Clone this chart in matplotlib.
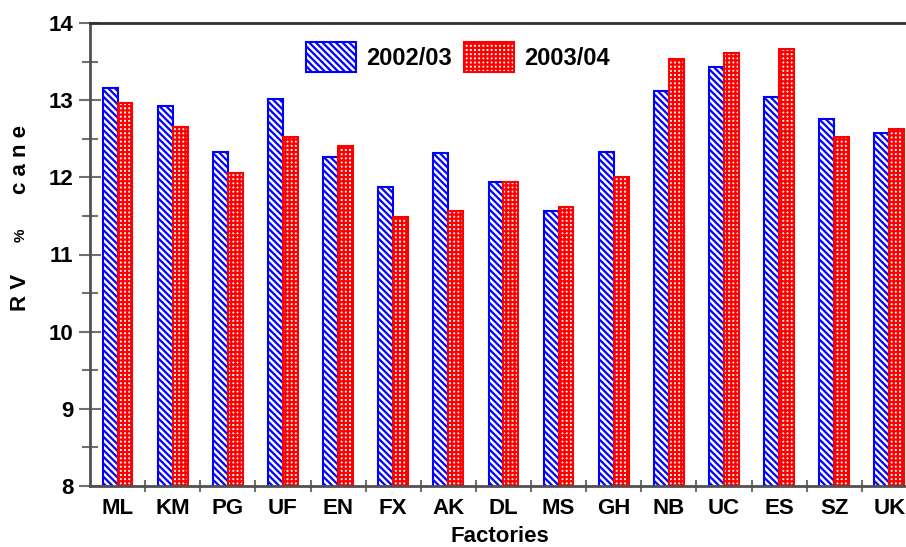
import numpy as np
import matplotlib
matplotlib.use("Agg")
import matplotlib.pyplot as plt
from matplotlib.ticker import MultipleLocator, FixedLocator

# data
factories = ["ML", "KM", "PG", "UF", "EN", "FX", "AK", "DL", "MS", "GH",
             "NB", "UC", "ES", "SZ", "UK"]
rv_2002 = [13.16, 12.93, 12.33, 13.01, 12.26, 11.87, 12.31, 11.94, 11.56, 12.33,
           13.12, 13.43, 13.04, 12.75, 12.57]
rv_2003 = [12.96, 12.65, 12.05, 12.52, 12.41, 11.48, 11.56, 11.94, 11.61, 12.00,
           13.53, 13.61, 13.66, 12.52, 12.62]
series_names = ["2002/03", "2003/04"]

plt.rcParams['font.family'] = ['Liberation Sans', 'DejaVu Sans']
plt.rcParams['hatch.linewidth'] = 1.6

W, H = 906, 547
fig = plt.figure(figsize=(W / 100, H / 100), dpi=100)
# axes box in pixels: left 90, top 23, bottom 486, right runs off the image
ax = fig.add_axes([90 / W, 1 - 486 / H, (W - 90) / W, (486 - 23) / H])

x = np.arange(len(factories))
bw = 0.27
ax.bar(x - bw / 2, rv_2002, bw, color="white", edgecolor="#0000ff",
       hatch="\\\\\\\\\\", linewidth=1.5, label=series_names[0])
ax.bar(x + bw / 2, rv_2003, bw, color="white", edgecolor="#ff0000",
       hatch="++++", linewidth=1.5, label=series_names[1])

ax.set_ylim(8, 14)
ax.set_xlim(-0.5, -0.5 + (W - 90) / 55.13)

ax.yaxis.set_major_locator(MultipleLocator(1))
ax.yaxis.set_minor_locator(MultipleLocator(0.5))
ax.set_xticks(x)
ax.set_xticklabels(factories)
ax.xaxis.set_minor_locator(FixedLocator(np.arange(0.5, len(factories) - 0.5, 1)))

ax.tick_params(axis="y", which="major", direction="inout", length=16, width=1.5,
               color="#707070", pad=4, labelsize=16)
ax.tick_params(axis="y", which="minor", direction="inout", length=11, width=1.5,
               color="#707070")
ax.tick_params(axis="x", which="major", length=0, pad=9, labelsize=16)
ax.tick_params(axis="x", which="minor", direction="inout", length=9, width=1.5,
               color="#707070")
for lab in ax.get_xticklabels() + ax.get_yticklabels():
    lab.set_fontweight("bold")

for side in ["left", "bottom"]:
    ax.spines[side].set_color("#505050")
    ax.spines[side].set_linewidth(2)
ax.spines["top"].set_color("#303030")
ax.spines["top"].set_linewidth(2)
ax.spines["right"].set_visible(False)

leg = ax.legend(loc="center", bbox_to_anchor=(458 / W, 1 - 57 / H),
                bbox_transform=fig.transFigure, ncol=2, frameon=False,
                prop={"size": 17, "weight": "bold"}, handlelength=2.1,
                handleheight=1.55, handletextpad=0.45, columnspacing=0.5,
                borderpad=0)

fig.text(500 / W, 1 - 536 / H, "Factories", ha="center", va="center",
         fontsize=16, fontweight="bold")
# rotated y label, drawn in three pieces like the original
fig.text(20 / W, 1 - 292 / H, "R V", rotation=90, ha="center", va="center",
         fontsize=16, fontweight="bold")
fig.text(21 / W, 1 - 235 / H, "%", rotation=90, ha="center", va="center",
         fontsize=11, fontweight="bold")
fig.text(20 / W, 1 - 159 / H, "c a n e", rotation=90, ha="center", va="center",
         fontsize=16, fontweight="bold")

fig.savefig("out.png", dpi=100)
